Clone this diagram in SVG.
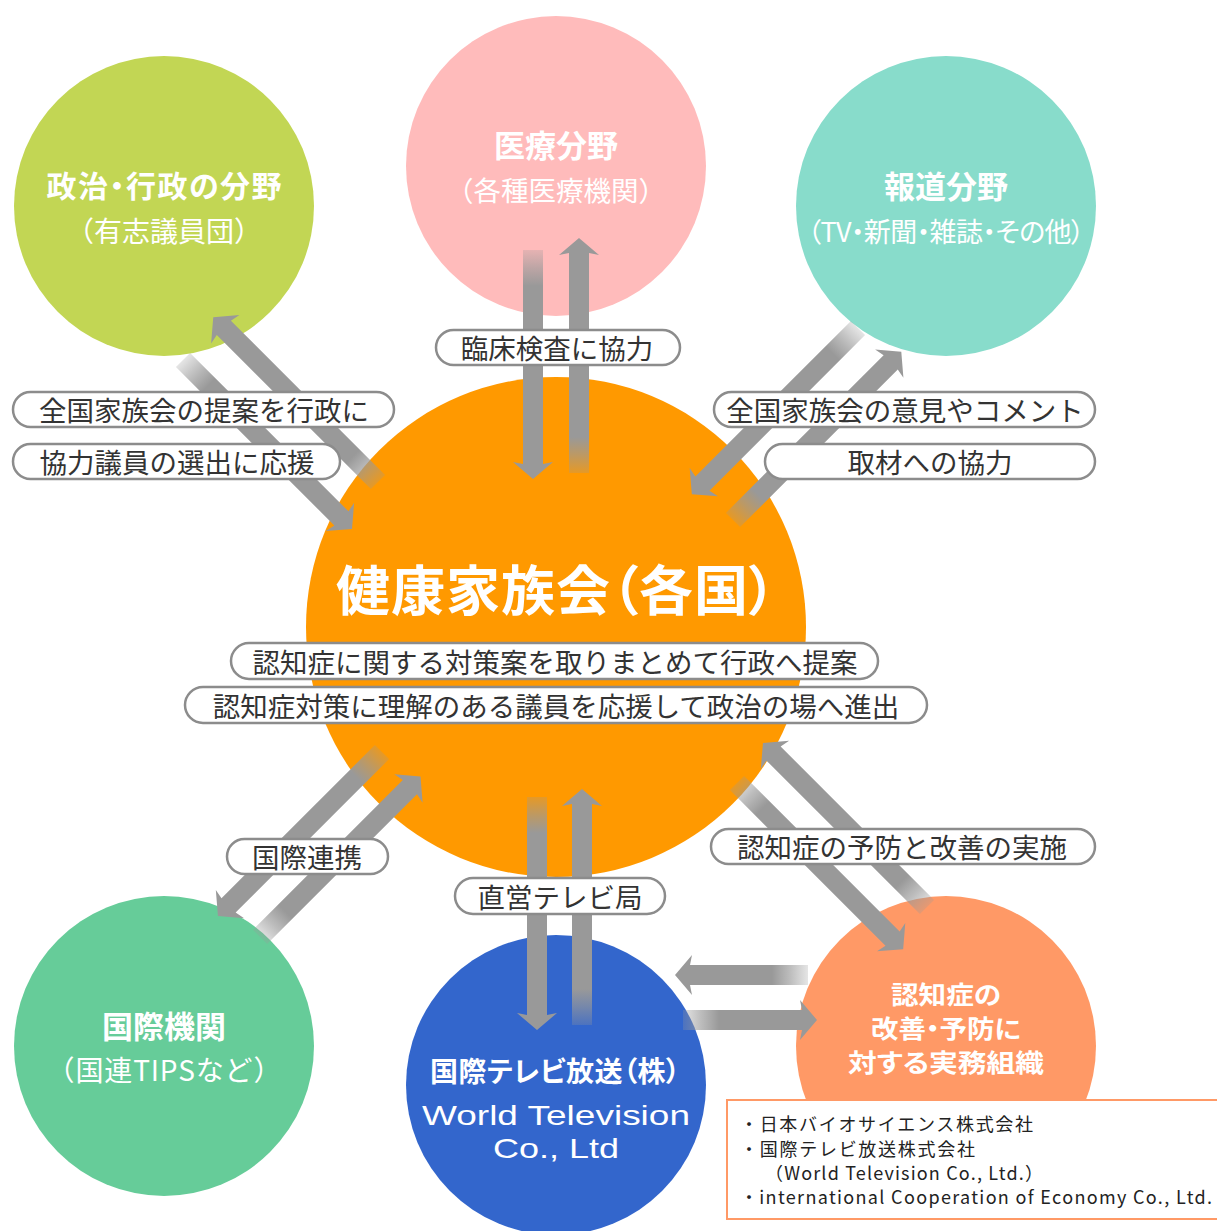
<svg xmlns="http://www.w3.org/2000/svg" width="1217" height="1231" viewBox="0 0 1217 1231">
<style>
.t{font-family:"Noto Sans CJK JP","Noto Sans CJK SC",sans-serif;fill:#fff;text-anchor:middle;dominant-baseline:central}
.b{font-weight:bold}
.p{font-feature-settings:"palt"}
.lbl{fill:#fff;stroke:#8c8c8c;stroke-width:2.5}
.lt{font-family:"Noto Sans CJK JP","Noto Sans CJK SC",sans-serif;fill:#333;font-size:27.5px;text-anchor:middle;dominant-baseline:central}
.arr{fill:url(#fade)}
.info{font-family:"Noto Sans CJK JP","Noto Sans CJK SC",sans-serif;fill:#222;font-size:18px}
.lat{font-family:"Liberation Sans","Noto Sans CJK JP",sans-serif}
</style>
<defs>
<linearGradient id="fade" gradientUnits="userSpaceOnUse" x1="0" y1="0" x2="36" y2="0">
<stop offset="0" stop-color="#999" stop-opacity="0.25"/>
<stop offset="0.5" stop-color="#999" stop-opacity="0.65"/>
<stop offset="1" stop-color="#999" stop-opacity="1"/>
</linearGradient>
</defs>
<rect width="1217" height="1231" fill="#fff"/>

<g id="node-politics">
<circle cx="164" cy="206" r="150" fill="#c2d654"/>
<text class="t b p" x="164" y="184" font-size="30" textLength="235">政治・行政の分野</text>
<text class="t" x="164" y="230" font-size="28">（有志議員団）</text>
</g>
<g id="node-medical">
<circle cx="556" cy="166" r="150" fill="#ffbbbb"/>
<text class="t b" x="556" y="143" font-size="31">医療分野</text>
<text class="t" x="556" y="189" font-size="27.5">（各種医療機関）</text>
</g>
<g id="node-press">
<circle cx="946" cy="206" r="150" fill="#88dccb"/>
<text class="t b" x="946" y="184" font-size="31">報道分野</text>
<text class="t p" x="946" y="230" font-size="27" textLength="277">（TV・新聞・雑誌・その他）</text>
</g>
<g id="node-center">
<circle cx="556" cy="627" r="250" fill="#ff9900"/>
<text class="t b p" x="556" y="587" font-size="54" textLength="440">健康家族会（各国）</text>
</g>
<g id="node-intl">
<circle cx="164" cy="1046" r="150" fill="#66cc99"/>
<text class="t b" x="164" y="1024" font-size="31">国際機関</text>
<text class="t" x="164" y="1069" font-size="28" textLength="235">（国連TIPSなど）</text>
</g>
<g id="node-tv">
<circle cx="556" cy="1085" r="150" fill="#3366cc"/>
<text class="t b p" x="555" y="1070" font-size="28" textLength="250">国際テレビ放送（株）</text>
<text class="t lat" x="556" y="1115" font-size="28" textLength="268" lengthAdjust="spacingAndGlyphs">World Television</text>
<text class="t lat" x="556" y="1148" font-size="28" textLength="126" lengthAdjust="spacingAndGlyphs">Co., Ltd</text>
</g>
<g id="node-org">
<circle cx="946" cy="1046" r="150" fill="#ff9966"/>
<text class="t b p" x="946" y="993" font-size="25" textLength="110" lengthAdjust="spacingAndGlyphs">認知症の</text>
<text class="t b p" x="946" y="1027" font-size="25" textLength="150" lengthAdjust="spacingAndGlyphs">改善・予防に</text>
<text class="t b p" x="946" y="1061" font-size="25" textLength="196" lengthAdjust="spacingAndGlyphs">対する実務組織</text>
</g>

<g id="connectors">
<polygon class="arr" transform="translate(533,250) rotate(90)" points="0,-10 214,-10 212,-20 229,0 212,20 214,10 0,10"/>
<polygon class="arr" transform="translate(579,473) rotate(-90)" points="0,-10 220,-10 218,-20 235,0 218,20 220,10 0,10"/>
<polygon class="arr" transform="translate(378,482) rotate(-135)" points="0,-10 218,-10 216,-20 233,0 216,20 218,10 0,10"/>
<polygon class="arr" transform="translate(183,360) rotate(45)" points="0,-10 224,-10 222,-20 239,0 222,20 224,10 0,10"/>
<polygon class="arr" transform="translate(858,328) rotate(135)" points="0,-10 220,-10 218,-20 235,0 218,20 220,10 0,10"/>
<polygon class="arr" transform="translate(733,520) rotate(-45)" points="0,-10 223,-10 221,-20 238,0 221,20 223,10 0,10"/>
<polygon class="arr" transform="translate(382,752) rotate(135)" points="0,-10 217,-10 215,-20 232,0 215,20 217,10 0,10"/>
<polygon class="arr" transform="translate(260,937) rotate(-45)" points="0,-10 212,-10 210,-20 227,0 210,20 212,10 0,10"/>
<polygon class="arr" transform="translate(537,797) rotate(90)" points="0,-10 218,-10 216,-20 233,0 216,20 218,10 0,10"/>
<polygon class="arr" transform="translate(582,1025) rotate(-90)" points="0,-10 221,-10 219,-20 236,0 219,20 221,10 0,10"/>
<polygon class="arr" transform="translate(808,975) rotate(180)" points="0,-10 118,-10 116,-20 133,0 116,20 118,10 0,10"/>
<polygon class="arr" transform="translate(683,1020)" points="0,-10 119,-10 117,-20 134,0 117,20 119,10 0,10"/>
<polygon class="arr" transform="translate(927,907) rotate(-135)" points="0,-10 217,-10 215,-20 232,0 215,20 217,10 0,10"/>
<polygon class="arr" transform="translate(737,783) rotate(45)" points="0,-10 220,-10 218,-20 235,0 218,20 220,10 0,10"/>
</g>

<g id="connector-labels">
<rect class="lbl" x="436" y="330" width="244" height="35" rx="17.5"/>
<text class="lt" x="557" y="347">臨床検査に協力</text>
<rect class="lbl" x="13" y="392" width="381" height="35" rx="17.5"/>
<text class="lt" x="204" y="409">全国家族会の提案を行政に</text>
<rect class="lbl" x="13" y="444" width="327" height="35" rx="17.5"/>
<text class="lt" x="177" y="461">協力議員の選出に応援</text>
<rect class="lbl" x="714" y="392" width="381" height="35" rx="17.5"/>
<text class="lt" x="905" y="409">全国家族会の意見やコメント</text>
<rect class="lbl" x="765" y="444" width="330" height="35" rx="17.5"/>
<text class="lt" x="930" y="461">取材への協力</text>
<rect class="lbl" x="231" y="643" width="647" height="36" rx="18"/>
<text class="lt" x="555" y="661">認知症に関する対策案を取りまとめて行政へ提案</text>
<rect class="lbl" x="185" y="687" width="742" height="36" rx="18"/>
<text class="lt" x="556" y="705">認知症対策に理解のある議員を応援して政治の場へ進出</text>
<rect class="lbl" x="227" y="839" width="161" height="35" rx="17.5"/>
<text class="lt" x="307" y="856">国際連携</text>
<rect class="lbl" x="455" y="878" width="210" height="36" rx="18"/>
<text class="lt" x="560" y="896">直営テレビ局</text>
<rect class="lbl" x="711" y="829" width="384" height="35" rx="17.5"/>
<text class="lt" x="902" y="846">認知症の予防と改善の実施</text>
</g>

<g id="info-box">
<rect x="727" y="1100" width="495" height="119" fill="#fff" stroke="#ff9966" stroke-width="2"/>
<text class="info" x="740" y="1131" textLength="293">・日本バイオサイエンス株式会社</text>
<text class="info" x="740" y="1156" textLength="235">・国際テレビ放送株式会社</text>
<text class="info" x="765" y="1180" textLength="278">（World Television Co., Ltd.）</text>
<text class="info" x="740" y="1204" textLength="472">・international Cooperation of Economy Co., Ltd.</text>
</g>
</svg>
